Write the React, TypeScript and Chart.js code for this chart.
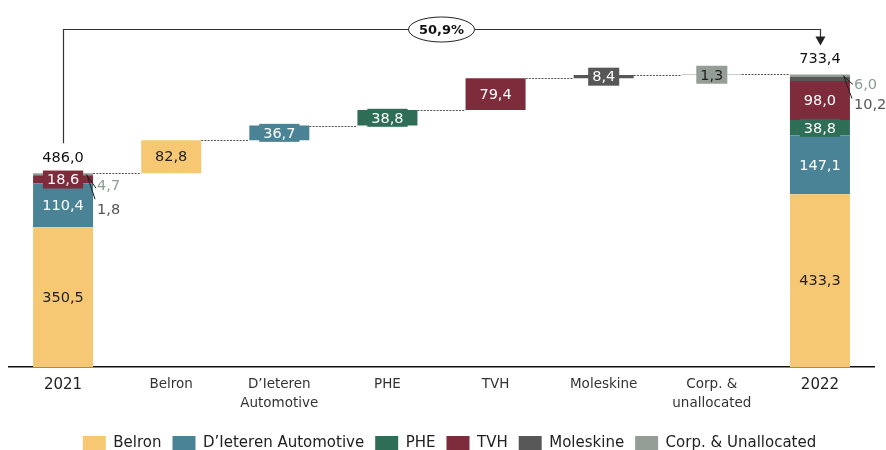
import { useEffect, useRef } from "react";
import { Chart, registerables } from "chart.js";

Chart.register(...registerables);

const categories: (string | string[])[] = [
  "2021",
  "Belron",
  ["D’Ieteren", "Automotive"],
  "PHE",
  "TVH",
  "Moleskine",
  ["Corp. &", "unallocated"],
  "2022",
];
const segments = ["Belron", "D’Ieteren Automotive", "PHE", "TVH", "Moleskine", "Corp. & Unallocated"];
const segmentColors = ["#F6C873", "#4A8396", "#2E6E56", "#7E2B3B", "#575757", "#949E97"];
const labelColors = ["#222222", "#FFFFFF", "#FFFFFF", "#FFFFFF", "#FFFFFF", "#222222"];
const values2021 = [350.5, 110.4, 0, 18.6, 1.8, 4.7];
const changes = [82.8, 36.7, 38.8, 79.4, 8.4, 1.3];
const values2022 = [433.3, 147.1, 38.8, 98.0, 10.2, 6.0];
const total2021 = 486.0;
const total2022 = 733.4;
const growthLabel = "50,9%";

const FONT = "'DejaVu Sans', sans-serif";
const fmt = (v: number) => v.toFixed(1).replace(".", ",");

function buildDatasets() {
  const n = categories.length;
  let c2021 = 0;
  let c2022 = 0;
  let running = total2021;
  return segments.map((name, s) => {
    const data: ([number, number] | null)[] = new Array(n).fill(null);
    if (values2021[s] > 0) data[0] = [c2021, c2021 + values2021[s]];
    c2021 += values2021[s];
    data[s + 1] = [running, running + changes[s]];
    running += changes[s];
    data[n - 1] = [c2022, c2022 + values2022[s]];
    c2022 += values2022[s];
    return {
      label: name,
      data,
      backgroundColor: segmentColors[s],
      borderWidth: 0,
      barPercentage: 0.555,
      categoryPercentage: 1,
      grouped: false,
    };
  });
}

const overlayPlugin = {
  id: "overlay",
  afterLayout(chart: any) {
    if (chart.legend) {
      chart.legend.left += 8;
      chart.legend.right += 8;
    }
  },
  afterDatasetsDraw(chart: any) {
    const { ctx, scales } = chart;
    const x = scales.x;
    const y = scales.y;
    const n = categories.length;
    const barW = (x.width / n) * 0.555;

    // connectors
    ctx.save();
    ctx.strokeStyle = "#555";
    ctx.lineWidth = 1;
    ctx.setLineDash([2, 1.2]);
    let level = total2021;
    for (let i = 0; i < n - 1; i++) {
      const yy = Math.round(y.getPixelForValue(level)) + 0.5;
      const x1 = x.getPixelForValue(i) + barW / 2;
      const x2 = x.getPixelForValue(i + 1) - barW / 2;
      ctx.beginPath();
      ctx.moveTo(x1, yy);
      ctx.lineTo(x2, yy);
      ctx.stroke();
      if (i < changes.length) level += changes[i];
    }
    ctx.restore();

    // inside labels
    ctx.save();
    ctx.font = `14.5px ${FONT}`;
    ctx.textAlign = "center";
    ctx.textBaseline = "middle";
    chart.data.datasets.forEach((ds: any, d: number) => {
      const meta = chart.getDatasetMeta(d);
      ds.data.forEach((v: any, i: number) => {
        if (!v) return;
        if ((i === 0 || i === n - 1) && d >= 4) return;
        const el = meta.data[i];
        const cx = el.x;
        const cy = (el.y + el.base) / 2;
        const value = v[1] - v[0];
        const t = fmt(value);
        const tw = ctx.measureText(t).width;
        ctx.fillStyle = segmentColors[d];
        ctx.fillRect(cx - tw / 2 - 4, cy - 9, tw + 8, 18);
        ctx.fillStyle = labelColors[d];
        ctx.fillText(t, cx, cy + 1);
      });
    });
    ctx.restore();

    // totals and outside small labels
    ctx.save();
    ctx.font = `14.5px ${FONT}`;
    ctx.textBaseline = "middle";
    const x0 = x.getPixelForValue(0);
    const x7 = x.getPixelForValue(n - 1);
    const top21 = y.getPixelForValue(total2021);
    const top22 = y.getPixelForValue(total2022);
    ctx.textAlign = "center";
    ctx.fillStyle = "#111";
    ctx.fillText(fmt(total2021), x0, top21 - 15);
    ctx.fillText(fmt(total2022), x7, top22 - 15);

    const outside = [
      { cx: x0, top: top21, vals: values2021, offs: [13, 37], ends: [15, 26] },
      { cx: x7, top: top22, vals: values2022, offs: [11, 31], ends: [10, 24] },
    ];
    outside.forEach((o) => {
      const right = o.cx + barW / 2;
      ctx.strokeStyle = "#222";
      ctx.lineWidth = 1;
      ctx.beginPath();
      ctx.moveTo(right - 7, o.top + 1);
      ctx.lineTo(right + 3, o.top + o.ends[0]);
      ctx.moveTo(right - 6, o.top + 2);
      ctx.lineTo(right + 2, o.top + o.ends[1]);
      ctx.stroke();
      ctx.textAlign = "left";
      ctx.fillStyle = "#8E9C92";
      ctx.fillText(fmt(o.vals[5]), right + 4, o.top + o.offs[0]);
      ctx.fillStyle = "#555";
      ctx.fillText(fmt(o.vals[4]), right + 4, o.top + o.offs[1]);
    });

    // bracket
    const by = Math.round(top22 - 45) + 0.5;
    const tip = top22 - 29;
    ctx.strokeStyle = "#333";
    ctx.lineWidth = 1.2;
    ctx.beginPath();
    ctx.moveTo(Math.round(x0) + 0.5, top21 - 30);
    ctx.lineTo(Math.round(x0) + 0.5, by);
    ctx.lineTo(Math.round(x7) + 0.5, by);
    ctx.lineTo(Math.round(x7) + 0.5, tip - 8);
    ctx.stroke();
    ctx.fillStyle = "#222";
    ctx.beginPath();
    ctx.moveTo(x7 - 4.5, tip - 9);
    ctx.lineTo(x7 + 5.5, tip - 9);
    ctx.lineTo(x7 + 0.5, tip);
    ctx.closePath();
    ctx.fill();

    const ex = (x0 + x7) / 2;
    ctx.beginPath();
    ctx.ellipse(ex, by, 33, 12.5, 0, 0, Math.PI * 2);
    ctx.fillStyle = "#fff";
    ctx.fill();
    ctx.strokeStyle = "#222";
    ctx.lineWidth = 1;
    ctx.stroke();
    ctx.font = `bold 13px ${FONT}`;
    ctx.textAlign = "center";
    ctx.fillStyle = "#111";
    ctx.fillText(growthLabel, ex, by + 1);
    ctx.restore();
  },
};

export default function App() {
  const ref = useRef<HTMLCanvasElement | null>(null);
  useEffect(() => {
    document.body.style.margin = "0";
    if (!ref.current) return;
    const chart = new Chart(ref.current, {
      type: "bar",
      data: { labels: categories as any, datasets: buildDatasets() as any },
      options: {
        responsive: false,
        animation: false,
        layout: { padding: { left: 9, right: 12, top: 8, bottom: 0 } },
        scales: {
          x: {
            grid: { display: false, drawTicks: false },
            border: { display: true, color: "#111", width: 1.5 },
            afterFit: (scale: any) => {
              scale.height += 4;
            },
            ticks: {
              padding: 8,
              color: (c: any) => (c.index === 0 || c.index === 7 ? "#222" : "#333"),
              font: (c: any) =>
                c.index === 0 || c.index === 7
                  ? { family: FONT, size: 15, lineHeight: 1.27 }
                  : { family: FONT, size: 13.5, lineHeight: 1.4 },
            },
          },
          y: { display: false, min: 0, max: 900 },
        },
        plugins: {
          legend: {
            position: "bottom",
            labels: {
              boxWidth: 23,
              boxHeight: 15,
              padding: 11,
              color: "#222",
              font: { family: FONT, size: 15 },
            },
          },
          tooltip: { enabled: false },
        },
      },
      plugins: [overlayPlugin],
    });
    return () => chart.destroy();
  }, []);
  return (
    <div style={{ width: 886, height: 450, overflow: "hidden", background: "#fff" }}>
      <canvas ref={ref} width={886} height={461} style={{ display: "block" }} />
    </div>
  );
}
